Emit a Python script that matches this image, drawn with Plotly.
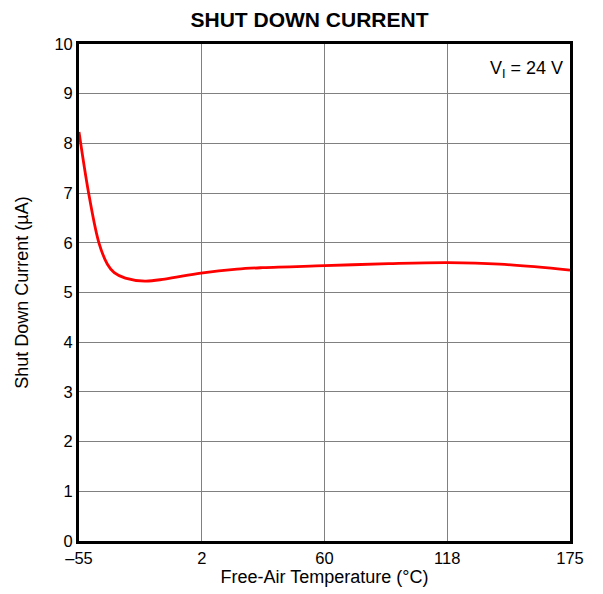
import plotly.graph_objects as go

# Courbe (température °C -> courant µA)
temperature = [-55, -50.2, -45.6, -41.7, -38.5, -33.3, -24.1, -14.8, 2.1, 19, 31, 60, 90, 118, 142, 175]
current = [8.23, 6.93, 5.99, 5.57, 5.40, 5.29, 5.23, 5.27, 5.39, 5.47, 5.50, 5.54, 5.58, 5.60, 5.57, 5.45]

x_tickvals = [-55, 2.5, 60, 117.5, 175]
x_ticktext = ["–55", "2", "60", "118", "175"]
y_tickvals = list(range(0, 11))

FONT = "Liberation Sans, Arial, sans-serif"

fig = go.Figure()
fig.add_trace(go.Scatter(
    x=temperature,
    y=current,
    mode="lines",
    line=dict(color="#ff0000", width=2.8, shape="spline", smoothing=1.0),
    showlegend=False,
))

# Condition de mesure en haut à droite
fig.add_annotation(
    text="V<sub>I</sub> = 24 V",
    xref="paper", yref="paper",
    x=0.99, y=0.976,
    xanchor="right", yanchor="top",
    showarrow=False,
    font=dict(family=FONT, size=18, color="black"),
)

# la page HTML ajoute ~8 px de marge au body : on compense dans les marges
fig.update_layout(
    width=603, height=594,
    margin=dict(l=65, r=41, t=36, b=61),
    paper_bgcolor="white",
    plot_bgcolor="white",
    title=dict(
        text="<b>SHUT DOWN CURRENT</b>",
        x=0.5, xanchor="center",
        y=0.981, yanchor="middle",
        font=dict(family=FONT, size=21, color="black"),
    ),
    font=dict(family=FONT, size=16, color="black"),
)

fig.update_xaxes(
    range=[-55, 175],
    tickvals=x_tickvals,
    ticktext=x_ticktext,
    showgrid=True, gridcolor="#808080", gridwidth=1,
    showline=True, linecolor="black", linewidth=2.8, mirror=True,
    zeroline=False, ticks="",
    tickfont=dict(size=16.5),
    title=dict(text="Free-Air Temperature (°C)", font=dict(size=18), standoff=5),
)
fig.update_yaxes(
    range=[0, 10],
    tickvals=y_tickvals,
    showgrid=True, gridcolor="#808080", gridwidth=1,
    showline=True, linecolor="black", linewidth=2.8, mirror=True,
    zeroline=False, ticks="",
    tickfont=dict(size=16.5),
    title=dict(text="Shut Down Current (µA)", font=dict(size=18), standoff=22),
)

fig.write_html("out.html")
